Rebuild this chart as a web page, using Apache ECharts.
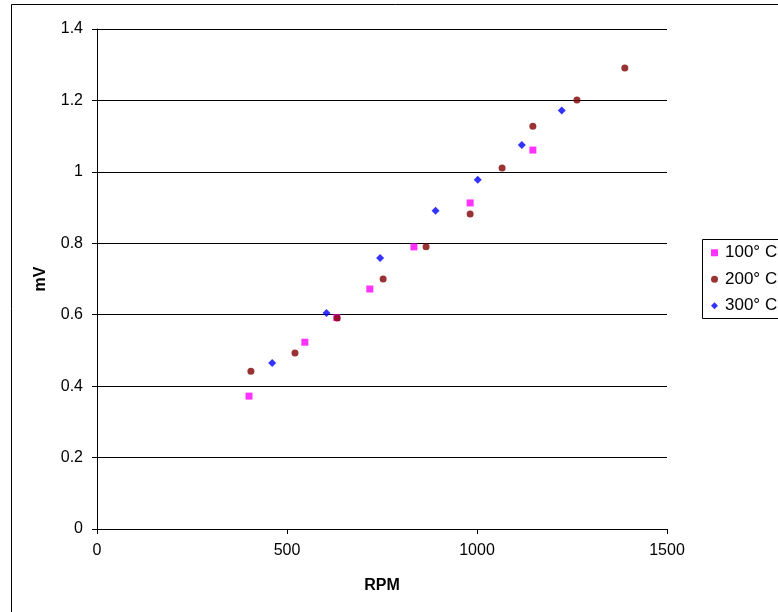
<!DOCTYPE html>
<html>
<head>
<meta charset="utf-8">
<script src="https://cdn.jsdelivr.net/npm/echarts@6/dist/echarts.min.js"></script>
<style>
html,body{margin:0;padding:0;background:#fff;}
#chart{width:778px;height:612px;}
</style>
</head>
<body>
<div id="chart"></div>
<script>
// Data
var seriesNames = ['100° C', '200° C', '300° C'];
var rpm100 = [400, 547, 631, 718, 834, 982, 1147];
var mv100  = [0.372, 0.523, 0.592, 0.672, 0.790, 0.913, 1.061];
var rpm200 = [405, 521, 632, 753, 866, 982, 1066, 1147, 1263, 1389];
var mv200  = [0.442, 0.493, 0.591, 0.700, 0.790, 0.882, 1.011, 1.128, 1.201, 1.291];
var rpm300 = [461, 604, 745, 891, 1002, 1118, 1223];
var mv300  = [0.465, 0.605, 0.759, 0.891, 0.978, 1.075, 1.172];

function pairs(xs, ys) { return xs.map(function (x, i) { return [x, ys[i]]; }); }

var chart = echarts.init(document.getElementById('chart'), null, {renderer: 'canvas'});
var font = 'Arial, "Liberation Sans", sans-serif';
chart.setOption({
  animation: false,
  backgroundColor: '#fff',
  grid: {left: 97, right: 111, top: 29, bottom: 83},
  graphic: [
    {type: 'rect', shape: {x: 11.5, y: 4.5, width: 900, height: 700}, style: {fill: 'none', stroke: '#000', lineWidth: 1}, silent: true, z: -1},
    {type: 'rect', shape: {x: 702.5, y: 239.5, width: 200, height: 79}, style: {fill: '#fff', stroke: '#000', lineWidth: 1}, silent: true, z: 0}
  ],
  legend: {
    orient: 'vertical', left: 711, top: 243, padding: 0,
    itemWidth: 7, itemHeight: 7, itemGap: 7,
    textStyle: {fontFamily: font, fontSize: 17, color: '#000', lineHeight: 19.5, padding: [0, 0, 0, 2]},
    data: [{name: seriesNames[0], icon: 'rect'}, {name: seriesNames[1], icon: 'circle'}, {name: seriesNames[2], icon: 'diamond'}],
    z: 5
  },
  xAxis: {
    type: 'value', min: 0, max: 1500, interval: 500,
    name: 'RPM', nameLocation: 'middle', nameGap: 49,
    nameTextStyle: {fontFamily: font, fontSize: 16, fontWeight: 'bold', color: '#000'},
    axisLine: {show: true, lineStyle: {color: '#000', width: 1}},
    axisTick: {show: true, length: 5, lineStyle: {color: '#000'}},
    axisLabel: {fontFamily: font, fontSize: 16, color: '#000', margin: 14,
      formatter: function (v) { return String(v); }},
    splitLine: {show: false}
  },
  yAxis: {
    type: 'value', min: 0, max: 1.4, interval: 0.2,
    name: 'mV', nameLocation: 'middle', nameGap: 48,
    nameTextStyle: {fontFamily: font, fontSize: 16, fontWeight: 'bold', color: '#000'},
    axisLine: {show: true, lineStyle: {color: '#000', width: 1}},
    axisTick: {show: true, length: 5, lineStyle: {color: '#000'}},
    axisLabel: {fontFamily: font, fontSize: 16, color: '#000', margin: 14,
      formatter: function (v) { return String(Math.round(v * 10) / 10); }},
    splitLine: {show: true, lineStyle: {color: '#000', width: 1}}
  },
  series: [
    {name: seriesNames[0], type: 'scatter', symbol: 'rect', symbolSize: 7, data: pairs(rpm100, mv100), itemStyle: {color: '#FF00FF'}},
    {name: seriesNames[1], type: 'scatter', symbol: 'circle', symbolSize: 7, data: pairs(rpm200, mv200), itemStyle: {color: '#800000'}},
    {name: seriesNames[2], type: 'scatter', symbol: 'diamond', symbolSize: 8, data: pairs(rpm300, mv300), itemStyle: {color: '#0000FF'}}
  ]
});
</script>
</body>
</html>
